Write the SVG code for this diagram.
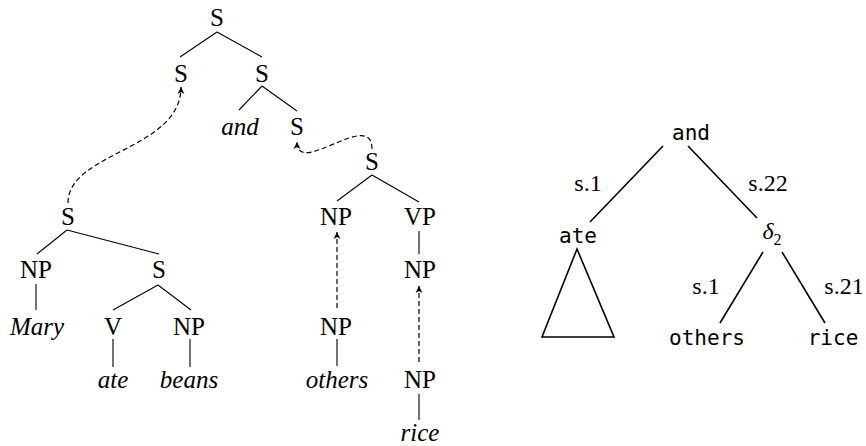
<svg xmlns="http://www.w3.org/2000/svg" width="866" height="446" viewBox="0 0 866 446">
<style>
.t{font-family:"Liberation Serif",serif;font-size:25px;text-anchor:middle;fill:#000}
.i{font-style:italic}
.m{font-family:"DejaVu Sans Mono",monospace;font-size:21px;text-anchor:middle;fill:#000}
.l{font-family:"Liberation Serif",serif;font-size:24px;text-anchor:middle;fill:#000}
.e{stroke:#000;stroke-width:1.1;fill:none}
.r{stroke:#000;stroke-width:1.6;fill:none}
.d{stroke:#000;stroke-width:1.2;fill:none;stroke-dasharray:5 3;marker-end:url(#ah)}
</style>
<defs>
<marker id="ah" markerWidth="10" markerHeight="10" refX="7" refY="5" orient="auto" markerUnits="userSpaceOnUse">
<path d="M7,5 L0,1.5 L2,5 L0,8.5 Z" fill="#000"/>
</marker>
</defs>
<rect width="866" height="446" fill="#fff"/>
<g id="connectors">
<path class="e" d="M217,32 L180,57 M217,32 L262,57 M262,86 L239,110 M262,86 L297,111 M372,175 L337,201 M372,175 L419,202 M419,231 L419,254 M67,230 L37,254 M67,230 L159,254 M158,285 L113,310 M158,285 L191,310 M36,284 L36,310 M113,339 L113,367 M190,339 L190,367 M337,339 L337,366 M419,394 L419,420"/>
<path class="d" d="M68,203 C68,152 181,150 181,87"/>
<path class="d" d="M372,149 C372,108 297,178 297,142"/>
<path class="d" d="M337,308 L337,232"/>
<path class="d" d="M419,362 L419,286"/>
<path class="r" d="M663,146 L590,222 M688,146 L757,218 M763,252 L720,323 M782,252 L825,323"/>
<path class="r" d="M577,249 L542,337 L614,337 Z"/>
</g>
<g id="n-root"><text class="t" x="217" y="26">S</text></g>
<g id="n-s1"><text class="t" x="181" y="82">S</text></g>
<g id="n-s2"><text class="t" x="262" y="82">S</text></g>
<g id="n-and"><text class="t i" x="240" y="135">and</text></g>
<g id="n-s3"><text class="t" x="297" y="135">S</text></g>
<g id="n-s4"><text class="t" x="372" y="170">S</text></g>
<g id="n-np1"><text class="t" x="336" y="225">NP</text></g>
<g id="n-vp"><text class="t" x="420" y="225">VP</text></g>
<g id="n-s5"><text class="t" x="68" y="225">S</text></g>
<g id="n-np2"><text class="t" x="36" y="278">NP</text></g>
<g id="n-s6"><text class="t" x="159" y="278">S</text></g>
<g id="n-np3"><text class="t" x="420" y="278">NP</text></g>
<g id="n-mary"><text class="t i" x="37" y="335">Mary</text></g>
<g id="n-v"><text class="t" x="113" y="335">V</text></g>
<g id="n-np4"><text class="t" x="189" y="335">NP</text></g>
<g id="n-np5"><text class="t" x="336" y="335">NP</text></g>
<g id="n-ate"><text class="t i" x="113" y="388">ate</text></g>
<g id="n-beans"><text class="t i" x="189" y="388">beans</text></g>
<g id="n-others"><text class="t i" x="337" y="388">others</text></g>
<g id="n-np6"><text class="t" x="420" y="388">NP</text></g>
<g id="n-rice"><text class="t i" x="420" y="441">rice</text></g>
<g id="r-and"><text class="m" x="691" y="140">and</text></g>
<g id="r-ate"><text class="m" x="578" y="243">ate</text></g>
<g id="r-delta"><text class="l i" x="772" y="239">δ<tspan font-style="normal" font-size="16" dy="6">2</tspan></text></g>
<g id="r-others"><text class="m" x="707" y="345">others</text></g>
<g id="r-rice"><text class="m" x="833" y="345">rice</text></g>
<g id="r-labels">
<text class="l" x="588" y="191">s.1</text>
<text class="l" x="768" y="191">s.22</text>
<text class="l" x="706" y="294">s.1</text>
<text class="l" x="844" y="294">s.21</text>
</g>
</svg>
